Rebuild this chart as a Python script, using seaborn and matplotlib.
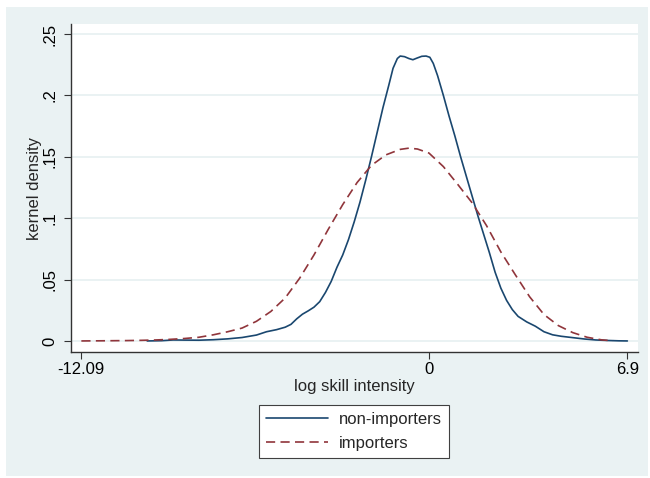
import matplotlib
matplotlib.use("Agg")
import matplotlib.pyplot as plt
from matplotlib.patches import Rectangle
import seaborn as sns

# Kernel density estimates of log skill intensity
nonimp_x = [-9.8, -9.3, -8.9, -8.5, -8.0, -7.5, -7.0, -6.5, -6.0, -5.65, -5.3, -5.0,
            -4.8, -4.6, -4.4, -4.2, -4.0, -3.8, -3.6, -3.4, -3.2, -3.0, -2.8, -2.6,
            -2.4, -2.2, -2.0, -1.8, -1.6, -1.4, -1.25, -1.1, -1.0, -0.85, -0.7, -0.56,
            -0.4, -0.25, -0.1, 0.03, 0.15, 0.3, 0.5, 0.7, 0.9, 1.1, 1.3, 1.5, 1.7, 1.9,
            2.1, 2.3, 2.5, 2.7, 2.9, 3.1, 3.4, 3.7, 4.0, 4.3, 4.6, 5.0, 5.4, 5.8, 6.2,
            6.6, 6.9]
nonimp_y = [0.0000, 0.0002, 0.0008, 0.0007, 0.0006, 0.0010, 0.0017, 0.0028, 0.0048,
            0.0075, 0.0092, 0.0112, 0.0135, 0.0180, 0.0218, 0.0245, 0.0275, 0.0320,
            0.0395, 0.0485, 0.0600, 0.0700, 0.0825, 0.0970, 0.1130, 0.1310, 0.1500,
            0.1700, 0.1900, 0.2080, 0.2220, 0.2300, 0.2320, 0.2315, 0.2300, 0.2290,
            0.2305, 0.2318, 0.2320, 0.2310, 0.2260, 0.2160, 0.2000, 0.1830, 0.1670,
            0.1500, 0.1340, 0.1180, 0.1020, 0.0870, 0.0720, 0.0560, 0.0430, 0.0330,
            0.0255, 0.0200, 0.0155, 0.0120, 0.0075, 0.0050, 0.0038, 0.0027, 0.0016,
            0.0008, 0.0004, 0.0001, 0.0000]

imp_x = [-12.09, -11.5, -11.0, -10.5, -10.0, -9.5, -9.0, -8.5, -8.0, -7.5, -7.0, -6.5,
         -6.0, -5.5, -5.0, -4.5, -4.0, -3.5, -3.0, -2.5, -2.0, -1.5, -1.0, -0.7, -0.4,
         0.0, 0.5, 1.0, 1.5, 2.0, 2.5, 3.0, 3.5, 4.0, 4.5, 5.0, 5.5, 6.0, 6.4]
imp_y = [0.0000, 0.0001, 0.0002, 0.0003, 0.0005, 0.0008, 0.0013, 0.0020, 0.0030, 0.0050,
         0.0075, 0.0105, 0.0160, 0.0240, 0.0350, 0.0510, 0.0700, 0.0910, 0.1110, 0.1290,
         0.1430, 0.1515, 0.1560, 0.1570, 0.1563, 0.1530, 0.1420, 0.1275, 0.1125, 0.0940,
         0.0725, 0.0540, 0.0360, 0.0215, 0.0125, 0.0068, 0.0030, 0.0009, 0.0001]

series_labels = ["non-importers", "importers"]
x_ticks = [-12.09, 0, 6.9]
x_tick_labels = ["-12.09", "0", "6.9"]
y_ticks = [0, 0.05, 0.1, 0.15, 0.2, 0.25]
y_tick_labels = ["0", ".05", ".1", ".15", ".2", ".25"]

NAVY = "#1A476F"
MAROON = "#90353B"
PANEL = "#EAF2F3"
AXIS = "#333333"

sns.set_theme(style="white")
plt.rcParams["font.family"] = ["Liberation Sans", "DejaVu Sans"]

W, H = 650, 478
fig = plt.figure(figsize=(W / 100, H / 100), dpi=100)
fig.patch.set_facecolor("white")
fig.patches.append(Rectangle((6 / W, 2 / H), 642 / W, 469 / H, transform=fig.transFigure,
                             facecolor=PANEL, edgecolor="none", zorder=-10))

ax = fig.add_axes([71 / W, 1 - 352 / H, (638 - 71) / W, (352 - 24) / H])
ax.set_facecolor("white")

sns.lineplot(x=nonimp_x, y=nonimp_y, ax=ax, color=NAVY, linewidth=1.2,
             label=series_labels[0], sort=False)
sns.lineplot(x=imp_x, y=imp_y, ax=ax, color=MAROON, linewidth=1.2,
             linestyle=(0, (5.5, 3.2)), label=series_labels[1], sort=False)

ax.set_xlim(-12.45, 7.27)
ax.set_ylim(-0.009, 0.2581)
ax.set_xticks(x_ticks)
ax.set_xticklabels(x_tick_labels, fontsize=12)
ax.set_yticks(y_ticks)
ax.set_yticklabels(y_tick_labels, fontsize=12, rotation=90, va="center")

ax.yaxis.grid(True, color=PANEL, linewidth=1.4)
ax.xaxis.grid(False)
ax.set_axisbelow(True)

for side in ["top", "right"]:
    ax.spines[side].set_visible(False)
for side in ["left", "bottom"]:
    ax.spines[side].set_color(AXIS)
    ax.spines[side].set_linewidth(1.0)

ax.tick_params(axis="both", which="major", bottom=True, left=True, direction="out",
               length=5, width=0.8, color=AXIS, labelcolor="black")
ax.tick_params(axis="x", pad=2)
ax.tick_params(axis="y", pad=5)

ax.set_xlabel("log skill intensity", fontsize=12, labelpad=2)
ax.set_ylabel("kernel density", fontsize=12, labelpad=0)

handles, labels = ax.get_legend_handles_labels()
if ax.get_legend() is not None:
    ax.get_legend().remove()
leg = fig.legend(handles, labels, loc="center", bbox_to_anchor=(354 / W, 1 - 431.5 / H),
                 frameon=True, fancybox=False, framealpha=1, edgecolor="#404040",
                 fontsize=12, handlelength=3.75, handletextpad=0.65, borderpad=0.42,
                 labelspacing=0.55)
leg.get_frame().set_linewidth(0.8)
leg.get_frame().set_facecolor("white")

fig.savefig("out.png", dpi=100, facecolor=fig.get_facecolor())
